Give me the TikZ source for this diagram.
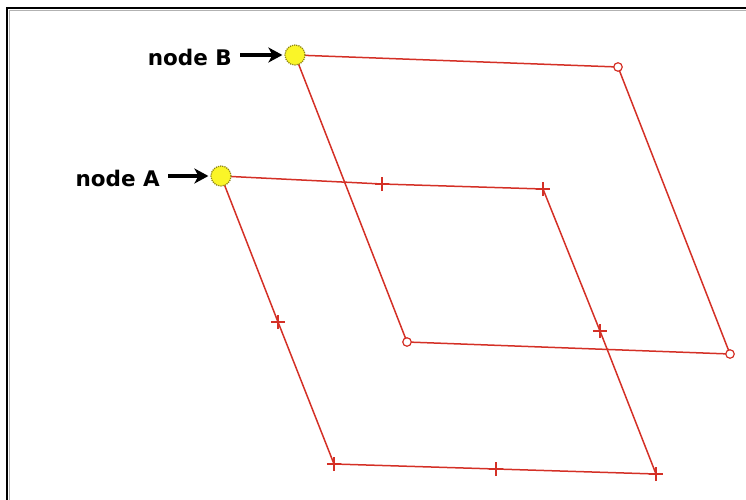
\documentclass[tikz,border=0pt]{standalone}
\usepackage{fontspec}
\setmainfont{DejaVu Sans}
\usetikzlibrary{arrows.meta,shapes.misc,backgrounds}
\definecolor{edgered}{RGB}{212,48,38}
\definecolor{hubfill}{RGB}{250,245,40}
\definecolor{hubline}{RGB}{140,130,20}
\tikzset{
  hub/.style={circle,fill=hubfill,draw=hubline,densely dotted,line width=1.2pt,minimum size=20pt,inner sep=0pt},
  plusmark/.style={cross out,draw=edgered,rotate=45,minimum size=8.5pt,inner sep=0pt,line width=1.6pt},
  ringmark/.style={circle,draw=edgered,fill=white,minimum size=8.5pt,inner sep=0pt,line width=1.2pt},
  edge/.style={draw=edgered,line width=1.5pt},
  lab/.style={font=\bfseries\fontsize{21.5}{25}\selectfont,anchor=east,inner sep=0pt},
  pointer/.style={-{Stealth[length=14pt,width=15pt,inset=4pt]},line width=3.2pt,black},
}
\begin{document}
\begin{tikzpicture}[x=1pt,y=-1pt]
\useasboundingbox (0,0) rectangle (746,500);
% frame
\draw[gray!60,line width=1.2pt] (9.5,500) -- (9.5,10.5) -- (746,10.5);
\draw[black,line width=2pt] (7,500) -- (7,8) -- (746,8);
% hubs
\node[hub] (B) at (295,55) {};
\node[hub] (A) at (221,176) {};
% square B corners
\node[ringmark] (b1) at (618,67) {};
\node[ringmark] (b2) at (730,354) {};
\node[ringmark] (b3) at (407,342) {};
% square A markers
\node[plusmark] (a1) at (382,184) {};
\node[plusmark] (a2) at (543,189) {};
\node[plusmark] (a3) at (600,331) {};
\node[plusmark] (a4) at (656,474) {};
\node[plusmark] (a5) at (496,469) {};
\node[plusmark] (a6) at (334,464) {};
\node[plusmark] (a7) at (278,322) {};
\begin{pgfonlayer}{background}
\draw[edge] (B.center) -- (b1.center) -- (b2.center) -- (b3.center) -- cycle;
\draw[edge] (A.center) -- (a1.center) -- (a2.center) -- (a3.center) -- (a4.center)
  -- (a5.center) -- (a6.center) -- (a7.center) -- cycle;
\end{pgfonlayer}
% labels
\node[lab] (labB) at (232,57) {node B};
\node[lab] (labA) at (160,178) {node A};
\draw[pointer] ([xshift=8pt]labB.east |- B.west) -- ([xshift=-2pt]B.west);
\draw[pointer] ([xshift=8pt]labA.east |- A.west) -- ([xshift=-2pt]A.west);
\end{tikzpicture}
\end{document}
